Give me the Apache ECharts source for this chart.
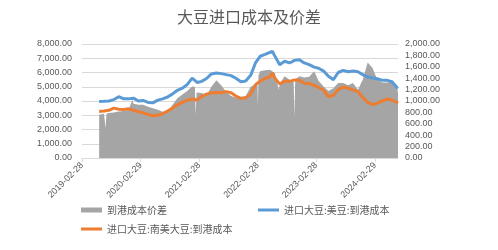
<!DOCTYPE html>
<html><head><meta charset="utf-8">
<script src="https://cdn.jsdelivr.net/npm/echarts@6/dist/echarts.min.js"></script>
<style>html,body{margin:0;padding:0;background:#fff}#c{width:498px;height:250px}</style>
</head><body><div id="c"></div>
<script>
var titleText = '大豆进口成本及价差';
var seriesNames = ['到港成本价差', '进口大豆:美豆:到港成本', '进口大豆:南美大豆:到港成本'];
var xTickLabels = ['2019-02-28', '2020-02-29', '2021-02-28', '2022-02-28', '2023-02-28', '2024-02-29'];
var xMin = '2019-02-28', xMax = '2024-07-22';
var leftTicks = [0, 1000, 2000, 3000, 4000, 5000, 6000, 7000, 8000];
var rightTicks = [0, 200, 400, 600, 800, 1000, 1200, 1400, 1600, 1800, 2000];

var lineDates = [
 '2019-06-15','2019-07-15','2019-08-15','2019-09-15','2019-10-15','2019-11-15','2019-12-15',
 '2020-01-15','2020-02-15','2020-03-15','2020-04-15','2020-05-15','2020-06-15','2020-07-15','2020-08-15','2020-09-15','2020-10-15','2020-11-15','2020-12-15',
 '2021-01-15','2021-02-15','2021-03-15','2021-04-15','2021-05-15','2021-06-15','2021-07-15','2021-08-15','2021-09-15','2021-10-15','2021-11-15','2021-12-15',
 '2022-01-15','2022-02-15','2022-03-15','2022-04-15','2022-05-15','2022-05-30','2022-06-15','2022-07-15','2022-08-15','2022-09-15','2022-10-15','2022-11-15','2022-12-15',
 '2023-01-15','2023-02-15','2023-03-15','2023-04-15','2023-05-15','2023-06-15','2023-07-15','2023-08-15','2023-09-15','2023-10-15','2023-11-15','2023-12-15',
 '2024-01-15','2024-02-15','2024-03-15','2024-04-15','2024-05-15','2024-06-15','2024-07-15','2024-07-22'
];
var usCost = [
 3970,3980,4000,4100,4300,4150,4150,
 4200,4000,4040,3900,3870,4060,4150,4280,4500,4750,4900,5150,
 5600,5300,5380,5580,5900,5970,5920,5850,5780,5600,5350,5400,
 5800,6700,7140,7270,7420,7490,7150,6550,6790,6670,6850,6900,6670,
 6550,6380,6300,6100,5730,5500,6000,6150,6050,6100,6050,5850,
 5680,5620,5560,5450,5450,5350,4950,4900
];
var saCost = [
 3260,3300,3350,3500,3420,3400,3450,
 3350,3240,3170,3050,2960,3000,3120,3290,3500,3730,3900,4050,
 4140,4070,4320,4480,4580,4600,4580,4660,4580,4350,4180,4220,
 4480,5150,5400,5580,5700,5970,5600,5200,5380,5380,5480,5450,5250,
 5220,5100,4950,4750,4300,4400,4800,4980,4900,4780,4670,4250,
 3900,3750,3850,4000,4140,4070,3900,3850
];
var spreadDates = [
 '2019-06-15','2019-07-15','2019-07-25','2019-07-31','2019-08-15','2019-09-15','2019-10-15','2019-11-15','2019-12-15',
 '2020-01-08','2020-01-15','2020-02-15','2020-03-15','2020-04-15','2020-05-15','2020-06-15','2020-07-15','2020-08-15','2020-09-15','2020-10-15','2020-11-15','2020-12-15',
 '2021-01-15','2021-02-01','2021-02-06','2021-02-12','2021-02-20','2021-03-15','2021-04-15','2021-05-15','2021-06-15','2021-07-15','2021-08-15','2021-09-15','2021-10-15','2021-11-15','2021-12-15',
 '2022-01-15','2022-02-15','2022-02-26','2022-03-01','2022-03-05','2022-03-15','2022-04-15','2022-05-15','2022-06-15','2022-07-10','2022-07-15','2022-08-15','2022-09-15','2022-10-10','2022-10-15','2022-10-20','2022-11-15','2022-12-15',
 '2023-01-15','2023-02-15','2023-03-15','2023-04-15','2023-05-15','2023-06-15','2023-07-15','2023-08-15','2023-09-15','2023-10-15','2023-11-15','2023-12-15',
 '2024-01-15','2024-02-15','2024-03-15','2024-04-15','2024-05-15','2024-06-15','2024-07-15','2024-07-22'
];
var spread = [
 758,775,525,775,788,800,815,825,845,
 1018,950,933,933,900,875,845,813,813,933,1050,1113,1175,
 1255,1250,758,1150,1125,1140,1100,1250,1363,1275,1163,1088,1063,1075,1088,
 1250,1300,1350,905,1450,1520,1538,1550,1493,1198,1300,1433,1375,1350,705,1380,1433,1413,
 1425,1520,1350,1255,1175,1225,1315,1315,1275,1315,1198,1375,
 1675,1575,1375,1325,1325,1338,1250,1140
];

function ts(s){var p=s.split('-');return Date.UTC(+p[0],+p[1]-1,+p[2]);}
function pairs(d,v){return d.map(function(x,i){return [ts(x),v[i]];});}
function pad(n){return n<10?'0'+n:''+n;}
function fmtDate(v){var d=new Date(v);return d.getUTCFullYear()+'-'+pad(d.getUTCMonth()+1)+'-'+pad(d.getUTCDate());}
function fmtNum(v){return v.toLocaleString('en-US',{minimumFractionDigits:2,maximumFractionDigits:2});}

var txt = '#595959', grid = '#d9d9d9';
var ff = 'Liberation Sans, Noto Sans CJK SC, sans-serif';
var cjk = 'Noto Sans CJK SC, sans-serif';
var tickVals = xTickLabels.map(ts);
var chart = echarts.init(document.getElementById('c'), null, {renderer:'canvas'});
chart.setOption({
 animation:false,
 backgroundColor:'#fff',
 title:{text:titleText,left:'center',top:4,textStyle:{fontSize:16,fontWeight:'normal',color:txt,fontFamily:cjk}},
 grid:{left:82,right:100,top:44,bottom:92},
 legend:[
  {data:[seriesNames[0]],left:76,top:200,itemWidth:21,itemHeight:5,icon:'rect',textStyle:{fontSize:10,color:txt,fontFamily:cjk}},
  {data:[seriesNames[1]],left:253,top:200,itemWidth:21,itemHeight:3,icon:'rect',textStyle:{fontSize:10,color:txt,fontFamily:cjk}},
  {data:[seriesNames[2]],left:76,top:219,itemWidth:21,itemHeight:3,icon:'rect',textStyle:{fontSize:10,color:txt,fontFamily:cjk}}
 ],
 xAxis:{type:'value',min:ts(xMin),max:ts(xMax),
  axisLine:{show:true,lineStyle:{color:grid}},
  axisTick:{show:true,customValues:tickVals,length:4,lineStyle:{color:grid}},
  splitLine:{show:false},
  axisLabel:{customValues:tickVals,rotate:45,fontSize:9,color:txt,fontFamily:ff,margin:6,
   formatter:function(v){return fmtDate(v);}}
 },
 yAxis:[
  {type:'value',min:leftTicks[0],max:leftTicks[leftTicks.length-1],interval:leftTicks[1]-leftTicks[0],
   axisLine:{show:false},axisTick:{show:false},
   splitLine:{lineStyle:{color:grid,width:1}},
   axisLabel:{fontSize:9,color:txt,fontFamily:ff,margin:10,formatter:fmtNum}},
  {type:'value',min:rightTicks[0],max:rightTicks[rightTicks.length-1],interval:rightTicks[1]-rightTicks[0],
   axisLine:{show:false},axisTick:{show:false},splitLine:{show:false},
   axisLabel:{fontSize:9,color:txt,fontFamily:ff,margin:7,formatter:fmtNum}}
 ],
 series:[
  {name:seriesNames[0],type:'line',yAxisIndex:1,data:pairs(spreadDates,spread),showSymbol:false,symbol:'none',
   color:'#A5A5A5',lineStyle:{width:0},areaStyle:{color:'#A5A5A5',opacity:1},z:1},
  {name:seriesNames[1],type:'line',yAxisIndex:0,data:pairs(lineDates,usCost),showSymbol:false,symbol:'none',
   color:'#5B9BD5',lineStyle:{width:3,color:'#5B9BD5'},z:3},
  {name:seriesNames[2],type:'line',yAxisIndex:0,data:pairs(lineDates,saCost),showSymbol:false,symbol:'none',
   color:'#ED7D31',lineStyle:{width:3,color:'#ED7D31'},z:4}
 ]
});
</script></body></html>
